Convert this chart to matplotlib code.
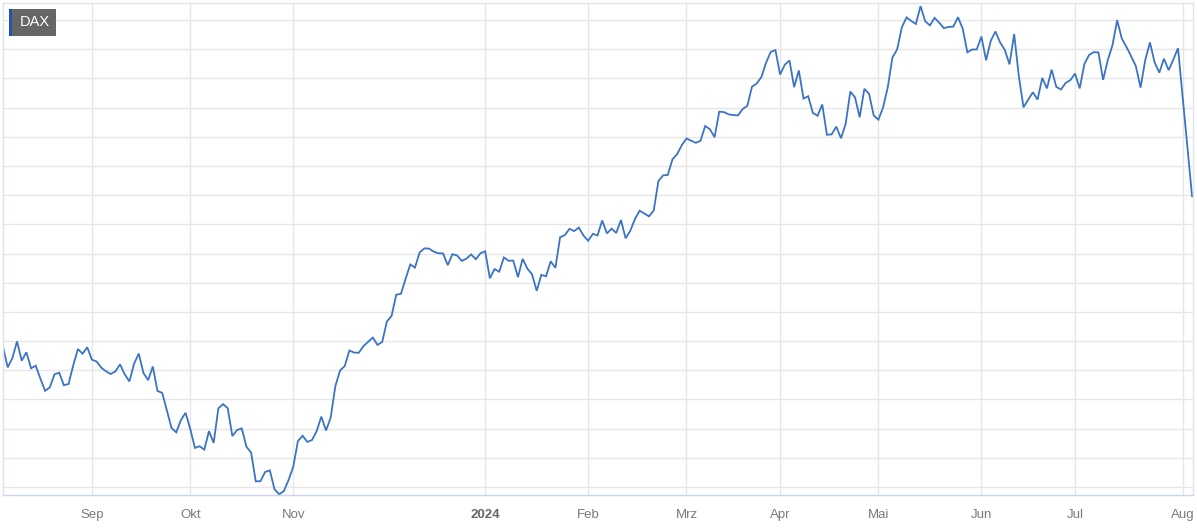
import matplotlib.pyplot as plt
from matplotlib.patches import Rectangle
import numpy as np

# DAX daily closes, one list per month (trading days only)
aug23 = [15951, 15775, 15854, 15997, 15832, 15904, 15767, 15789, 15677, 15574,
         15603, 15715, 15729, 15622, 15632, 15792, 15931, 15892, 15947]
sep23 = [15840, 15825, 15772, 15741, 15718, 15740, 15800, 15715, 15654, 15806,
         15893, 15727, 15665, 15782, 15572, 15557, 15405, 15256, 15218, 15323, 15386]
oct23 = [15247, 15085, 15099, 15070, 15229, 15128, 15423, 15460, 15425, 15186,
         15238, 15252, 15095, 15045, 14798, 14800, 14879, 14892, 14731, 14687,
         14716, 14810]
nov23 = [14923, 15144, 15189, 15136, 15152, 15229, 15353, 15234, 15345, 15615,
         15748, 15786, 15919, 15901, 15900, 15957, 15994, 16030, 15967, 15992,
         16167, 16215]
dec23 = [16397, 16405, 16533, 16656, 16629, 16759, 16794, 16792, 16766, 16752,
         16751, 16650, 16744, 16733, 16687, 16706, 16742, 16701, 16752]
jan24 = [16769, 16538, 16617, 16594, 16716, 16688, 16689, 16547, 16704, 16622,
         16572, 16431, 16567, 16555, 16683, 16627, 16889, 16907, 16961, 16942,
         16972, 16904]
feb24 = [16859, 16918, 16905, 17033, 16922, 16963, 16926, 17037, 16880, 16945,
         17046, 17117, 17092, 17068, 17118, 17370, 17419, 17423, 17556, 17601, 17678]
mar24 = [17735, 17716, 17698, 17716, 17842, 17815, 17746, 17965, 17961, 17942,
         17936, 17933, 17987, 18015, 18179, 18206, 18261, 18384, 18477, 18492]
apr24 = [18283, 18367, 18403, 18175, 18318, 18077, 18097, 17954, 17930, 18027,
         17767, 17770, 17837, 17737, 17860, 18137, 18088, 17917, 18161, 18118, 17932]
may24 = [17896, 18001, 18175, 18430, 18498, 18686, 18772, 18742, 18716, 18869,
         18739, 18704, 18768, 18726, 18680, 18691, 18693, 18774, 18677, 18473,
         18497, 18498]
jun24 = [18608, 18405, 18572, 18652, 18557, 18494, 18370, 18630, 18266, 18002,
         18068, 18131, 18068, 18254, 18164, 18325, 18177, 18155, 18211, 18235]
jul24 = [18291, 18164, 18374, 18450, 18475, 18472, 18237, 18407, 18534, 18748,
         18590, 18518, 18438, 18354, 18171, 18407, 18558, 18387, 18299, 18418,
         18320, 18411, 18509]
aug24 = [18083, 17661, 17240]

months = [aug23, sep23, oct23, nov23, dec23, jan24, feb24, mar24, apr24,
          may24, jun24, jul24, aug24]
month_labels = ["", "Sep", "Okt", "Nov", "", "2024", "Feb", "Mrz", "Apr",
                "Mai", "Jun", "Jul", "Aug"]

values = np.concatenate(months)
x = np.arange(len(values))
starts = np.cumsum([0] + [len(m) for m in months[:-1]])
ticks = [s for s, l in zip(starts, month_labels) if l]
labels = [l for l in month_labels if l]

W, H = 1197, 532
fig = plt.figure(figsize=(W / 100, H / 100), dpi=100)
ax = fig.add_axes([3 / W, 1 - 495 / H, 1190 / W, 492 / H])

ax.plot(x, values, '-', color="#3b74c4", lw=1.3, solid_joinstyle="miter")
ax.set_xlim(0, 254.2)
ax.set_ylim(14681.5, 18895.6)

ax.set_yticks(np.arange(14750, 18751, 250))
ax.set_yticklabels([])
ax.set_xticks(ticks)
ax.set_xticklabels(labels, fontfamily="Liberation Sans", fontsize=9.5, color="#7a7a7a")
for t in ax.get_xticklabels():
    if t.get_text() == "2024":
        t.set_fontweight("bold")
        t.set_color("#666666")
ax.tick_params(axis="both", length=0, pad=10)
ax.grid(True, color="#e6e6e6", lw=1)
ax.set_axisbelow(True)
for s in ax.spines.values():
    s.set_color("#dfe3ec")
    s.set_linewidth(1)
ax.spines["bottom"].set_color("#ccd6eb")

# DAX label box
fig.add_artist(Rectangle((9 / W, 1 - 36 / H), 47 / W, 27 / H, transform=fig.transFigure,
                         facecolor="#666666", edgecolor="none"))
fig.add_artist(Rectangle((9 / W, 1 - 36 / H), 3 / W, 27 / H, transform=fig.transFigure,
                         facecolor="#1f55b0", edgecolor="none"))
fig.text(20 / W, 1 - 22.5 / H, "DAX", color="white", fontsize=10.5,
         fontfamily="Liberation Sans", va="center", ha="left")

plt.savefig("out.png", dpi=100)
